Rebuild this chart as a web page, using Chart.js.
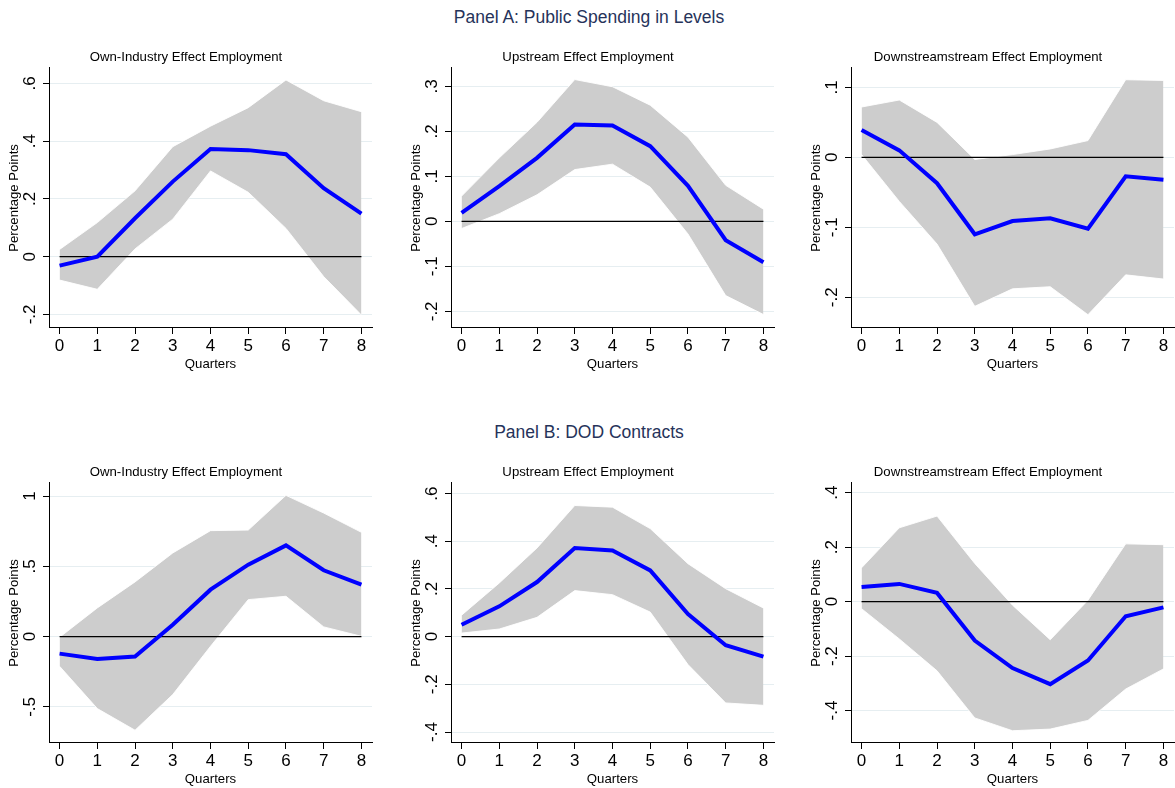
<!DOCTYPE html>
<html>
<head>
<meta charset="utf-8">
<title>Employment effects</title>
<script src="https://cdn.jsdelivr.net/npm/chart.js@4.4.1/dist/chart.umd.min.js"></script>
<style>
    html, body { margin: 0; padding: 0; background: #fff; overflow: hidden; }
    body { width: 1175px; height: 788px; position: relative; font-family: "Liberation Sans", Arial, Helvetica, sans-serif; }
    .panel-title { position: absolute; left: 0; width: 1178px; text-align: center; font-size: 17.5px; color: #26335a; line-height: 20px; }
    canvas { position: absolute; }
</style>
</head>
<body>
<div class="panel-title" style="top: 7px;">Panel A: Public Spending in Levels</div>
<div class="panel-title" style="top: 422px;">Panel B: DOD Contracts</div>

<canvas id="aOwn" width="373" height="332" style="left: 0px; top: 40px;"></canvas>
<canvas id="aUp" width="373" height="332" style="left: 402px; top: 40px;"></canvas>
<canvas id="aDown" width="373" height="332" style="left: 802px; top: 40px;"></canvas>
<canvas id="bOwn" width="373" height="332" style="left: 0px; top: 455px;"></canvas>
<canvas id="bUp" width="373" height="332" style="left: 402px; top: 455px;"></canvas>
<canvas id="bDown" width="373" height="332" style="left: 802px; top: 455px;"></canvas>

<script>
// Quarters after the shock
const quarters = [0, 1, 2, 3, 4, 5, 6, 7, 8];

// Panel A: Public Spending in Levels
const aOwnMean  = [-0.031, 0.000, 0.133, 0.260, 0.373, 0.369, 0.355, 0.237, 0.149];
const aOwnUpper = [0.025, 0.118, 0.228, 0.381, 0.452, 0.516, 0.612, 0.540, 0.502];
const aOwnLower = [-0.081, -0.113, 0.027, 0.130, 0.297, 0.223, 0.098, -0.069, -0.202];
const aOwnTicks = [-0.2, 0, 0.2, 0.4, 0.6];
const aOwnRange = [-0.247, 0.654];

const aUpMean  = [0.019, 0.078, 0.141, 0.215, 0.213, 0.167, 0.079, -0.042, -0.091];
const aUpUpper = [0.056, 0.141, 0.220, 0.315, 0.299, 0.258, 0.187, 0.080, 0.027];
const aUpLower = [-0.016, 0.017, 0.059, 0.115, 0.127, 0.076, -0.028, -0.165, -0.207];
const aUpTicks = [-0.2, -0.1, 0, 0.1, 0.2, 0.3];
const aUpRange = [-0.237, 0.341];

const aDownMean  = [0.039, 0.010, -0.037, -0.110, -0.091, -0.087, -0.102, -0.027, -0.032];
const aDownUpper = [0.072, 0.082, 0.050, -0.003, 0.004, 0.012, 0.024, 0.111, 0.110];
const aDownLower = [0.004, -0.063, -0.124, -0.213, -0.188, -0.185, -0.225, -0.168, -0.174];
const aDownTicks = [-0.2, -0.1, 0, 0.1];
const aDownRange = [-0.244, 0.128];

// Panel B: DOD Contracts
const bOwnMean  = [-0.121, -0.159, -0.142, 0.085, 0.334, 0.512, 0.649, 0.472, 0.370];
const bOwnUpper = [-0.005, 0.204, 0.389, 0.595, 0.754, 0.758, 1.005, 0.879, 0.742];
const bOwnLower = [-0.211, -0.512, -0.666, -0.412, -0.069, 0.263, 0.287, 0.069, 0.002];
const bOwnTicks = [-0.5, 0, 0.5, 1];
const bOwnRange = [-0.757, 1.094];

const bUpMean  = [0.050, 0.127, 0.229, 0.372, 0.361, 0.278, 0.095, -0.036, -0.084];
const bUpUpper = [0.090, 0.225, 0.372, 0.550, 0.543, 0.453, 0.306, 0.201, 0.120];
const bUpLower = [0.015, 0.032, 0.081, 0.193, 0.176, 0.103, -0.117, -0.278, -0.288];
const bUpTicks = [-0.4, -0.2, 0, 0.2, 0.4, 0.6];
const bUpRange = [-0.446, 0.645];

const bDownMean  = [0.054, 0.065, 0.032, -0.143, -0.244, -0.303, -0.216, -0.054, -0.021];
const bDownUpper = [0.124, 0.271, 0.314, 0.140, -0.013, -0.140, 0.005, 0.212, 0.209];
const bDownLower = [-0.026, -0.137, -0.254, -0.427, -0.474, -0.468, -0.436, -0.321, -0.247];
const bDownTicks = [-0.4, -0.2, 0, 0.2, 0.4];
const bDownRange = [-0.519, 0.436];

const zeroLine = quarters.map(() => 0);

const FONT = '"Liberation Sans", Arial, Helvetica, sans-serif';

// Stata style labels: .6, -.2, 0, 1
function stataLabel(v) {
    if (v === 0) return '0';
    return String(v).replace('0.', '.');
}

function toPoints(values) {
    return quarters.map((q, i) => ({ x: q, y: values[i] }));
}

// y tick labels rotated like in the Stata graph
const rotatedYLabels = {
    id: 'rotatedYLabels',
    afterDraw(chart) {
        const yScale = chart.scales.y;
        const ctx = chart.ctx;
        ctx.save();
        ctx.font = '17px ' + FONT;
        ctx.fillStyle = '#000';
        ctx.textAlign = 'center';
        ctx.textBaseline = 'middle';
        yScale.ticks.forEach(t => {
            const y = yScale.getPixelForValue(t.value);
            ctx.save();
            ctx.translate(yScale.right - 18.5, y);
            ctx.rotate(-Math.PI / 2);
            ctx.fillText(stataLabel(t.value), 0, 0);
            ctx.restore();
        });
        ctx.restore();
    }
};

function drawPanel(id, title, mean, upper, lower, yTicks, yRange) {
    const ctx = document.getElementById(id).getContext('2d');

    return new Chart(ctx, {
        type: 'line',
        data: {
            datasets: [
                {
                    data: toPoints(upper),
                    borderColor: 'rgba(255,255,255,0.9)',
                    borderWidth: 1,
                    backgroundColor: '#cdcdcd',
                    fill: '+1',
                    pointRadius: 0,
                    order: 3
                },
                {
                    data: toPoints(lower),
                    borderColor: 'rgba(255,255,255,0.9)',
                    borderWidth: 1,
                    fill: false,
                    pointRadius: 0,
                    order: 2
                },
                {
                    data: toPoints(zeroLine),
                    borderColor: '#000',
                    borderWidth: 1.3,
                    fill: false,
                    pointRadius: 0,
                    order: 1
                },
                {
                    data: toPoints(mean),
                    borderColor: '#0000ff',
                    borderWidth: 4,
                    fill: false,
                    pointRadius: 0,
                    order: 0
                }
            ]
        },
        options: {
            responsive: false,
            animation: false,
            devicePixelRatio: 1,
            layout: { padding: { left: 0, right: 1, top: 0, bottom: 0 } },
            plugins: {
                legend: { display: false },
                tooltip: { enabled: false },
                title: {
                    display: true,
                    text: title,
                    color: '#000',
                    font: { family: FONT, size: 13.2, weight: 'normal' },
                    padding: { top: 9, bottom: 3 }
                }
            },
            scales: {
                x: {
                    type: 'linear',
                    min: -0.28,
                    max: 8.28,
                    afterBuildTicks: (scale) => {
                        scale.ticks = quarters.map(v => ({ value: v }));
                    },
                    afterFit: (scale) => { scale.height = 44; },
                    grid: {
                        display: true,
                        drawOnChartArea: false,
                        drawTicks: true,
                        tickLength: 6,
                        tickColor: '#000'
                    },
                    border: { display: true, color: '#000', width: 1 },
                    ticks: {
                        color: '#000',
                        padding: 2,
                        maxRotation: 0,
                        font: { family: FONT, size: 17 },
                        callback: (v) => String(v)
                    },
                    title: {
                        display: true,
                        text: 'Quarters',
                        color: '#000',
                        font: { family: FONT, size: 13.2 },
                        padding: { top: 0, bottom: 0 }
                    }
                },
                y: {
                    type: 'linear',
                    min: yRange[0],
                    max: yRange[1],
                    afterBuildTicks: (scale) => {
                        scale.ticks = yTicks.map(v => ({ value: v }));
                    },
                    afterFit: (scale) => { scale.width = 49; },
                    grid: {
                        color: '#e6eef1',
                        lineWidth: 1,
                        drawTicks: true,
                        tickLength: 6,
                        tickColor: '#000'
                    },
                    border: { display: true, color: '#000', width: 1 },
                    ticks: { display: false },
                    title: {
                        display: true,
                        text: 'Percentage Points',
                        color: '#000',
                        font: { family: FONT, size: 13.2 },
                        padding: { top: 6, bottom: 0 }
                    }
                }
            }
        },
        plugins: [rotatedYLabels]
    });
}

drawPanel('aOwn', 'Own-Industry Effect Employment', aOwnMean, aOwnUpper, aOwnLower, aOwnTicks, aOwnRange);
drawPanel('aUp', 'Upstream Effect Employment', aUpMean, aUpUpper, aUpLower, aUpTicks, aUpRange);
drawPanel('aDown', 'Downstreamstream Effect Employment', aDownMean, aDownUpper, aDownLower, aDownTicks, aDownRange);
drawPanel('bOwn', 'Own-Industry Effect Employment', bOwnMean, bOwnUpper, bOwnLower, bOwnTicks, bOwnRange);
drawPanel('bUp', 'Upstream Effect Employment', bUpMean, bUpUpper, bUpLower, bUpTicks, bUpRange);
drawPanel('bDown', 'Downstreamstream Effect Employment', bDownMean, bDownUpper, bDownLower, bDownTicks, bDownRange);
</script>
</body>
</html>
